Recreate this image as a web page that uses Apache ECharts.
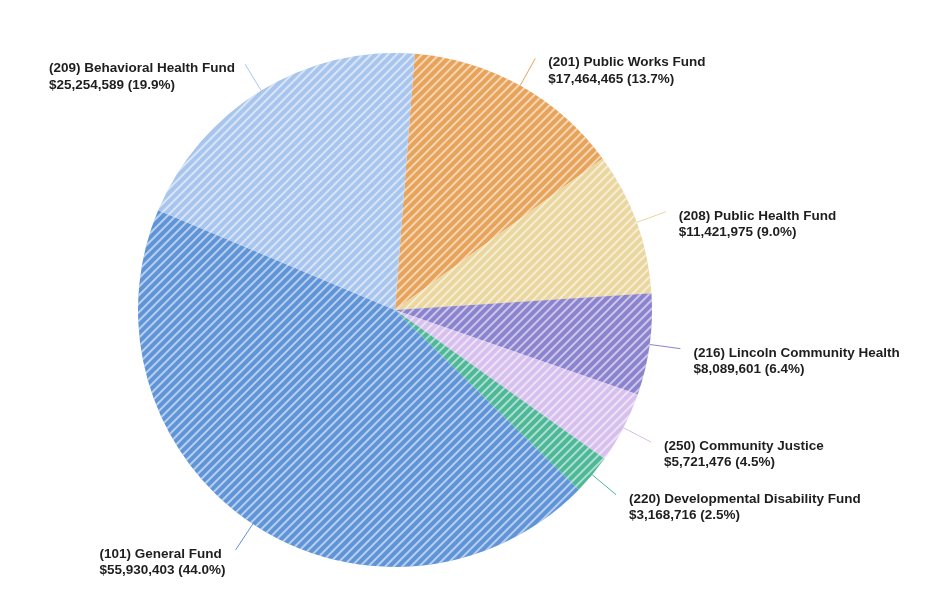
<!DOCTYPE html>
<html>
<head>
<meta charset="utf-8">
<script src="https://cdn.jsdelivr.net/npm/echarts@6/dist/echarts.min.js"></script>
<style>html,body{margin:0;padding:0;background:#fff}#c{width:943px;height:590px}</style>
</head>
<body>
<div id="c"></div>
<script>
const categories = [
  "(201) Public Works Fund",
  "(208) Public Health Fund",
  "(216) Lincoln Community Health",
  "(250) Community Justice",
  "(220) Developmental Disability Fund",
  "(101) General Fund",
  "(209) Behavioral Health Fund"
];
const values = [17464465, 11421975, 8089601, 5721476, 3168716, 55930403, 25254589];
const colors = ["#E8A35A", "#EAD79F", "#8C83CF", "#D8C0EE", "#4DB897", "#5F95D8", "#A8C5EE"];

const chart = echarts.init(document.getElementById('c'), null, {renderer: 'canvas'});
const total = values.reduce((a, b) => a + b, 0);
const decal = {
  symbol: 'rect', symbolSize: 1,
  dashArrayX: [1, 0], dashArrayY: [2, 3.6],
  rotation: -Math.PI / 4,
  color: 'rgba(255,255,255,0.55)'
};
chart.setOption({
  animation: false,
  backgroundColor: '#ffffff',
  series: [{
    type: 'pie',
    center: [395, 310],
    radius: 257,
    startAngle: 85.6,
    clockwise: true,
    avoidLabelOverlap: false,
    emphasis: {disabled: true},
    data: categories.map((c, i) => ({
      name: c, value: values[i],
      itemStyle: {color: colors[i], decal: decal},
      labelLine: {lineStyle: {color: colors[i]}}
    })),
    label: {
      show: true,
      position: 'outside',
      color: '#1e1e1e',
      fontFamily: 'Liberation Sans, Arial, sans-serif',
      fontWeight: 'bold',
      fontSize: 13.5,
      lineHeight: 16.5,
      formatter: p => p.name + '\n$' + p.value.toLocaleString('en-US') + ' (' + (p.value / total * 100).toFixed(1) + '%)'
    },
    labelLine: {show: true, length: 31, length2: 0, smooth: false, lineStyle: {width: 1}},
    labelLayout: function (params) {
      const pts = params.labelLinePoints;
      if (!pts) return {};
      const end = pts[pts.length - 1];
      const w = params.labelRect.width;
      const isRight = end[0] >= pts[0][0];
      return {
        x: isRight ? end[0] + 13 : end[0] - w - 10,
        y: end[1] - 4,
        align: 'left',
        verticalAlign: 'top',
        labelLinePoints: pts
      };
    }
  }]
});
</script>
</body>
</html>
